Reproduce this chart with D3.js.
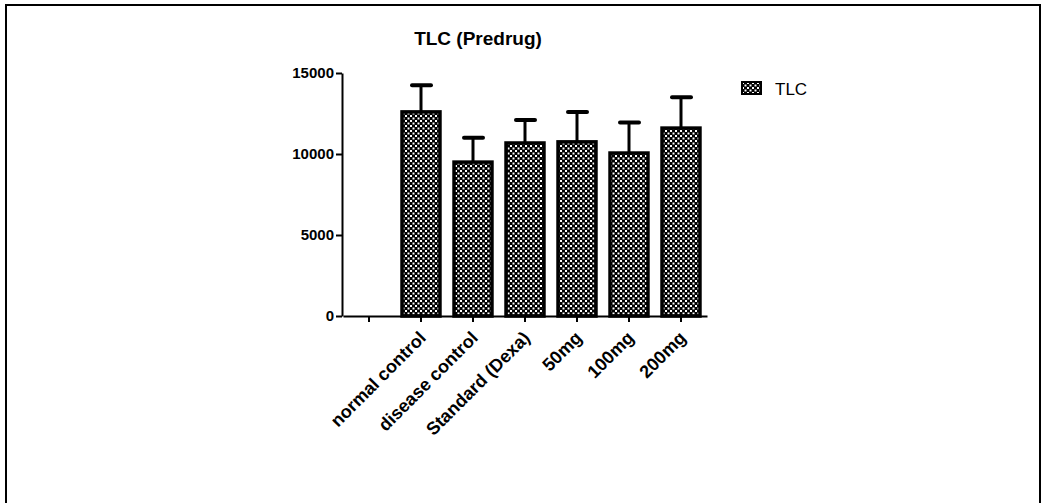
<!DOCTYPE html>
<html>
<head>
<meta charset="utf-8">
<script src="https://cdn.jsdelivr.net/npm/d3@7"></script>
<style>
  body { margin: 0; background: #fff; }
  svg { display: block; font-family: "Liberation Sans", Arial, sans-serif; }
</style>
</head>
<body>
<div id="chart"></div>
<script>
// data
const categories = ["", "normal control", "disease control", "Standard (Dexa)", "50mg", "100mg", "200mg"];
const groups = ["normal control", "disease control", "Standard (Dexa)", "50mg", "100mg", "200mg"];
const means = [12600, 9500, 10680, 10750, 10060, 11600];
const errors = [1650, 1500, 1420, 1850, 1890, 1900];
const yTicks = [0, 5000, 10000, 15000];
const seriesName = "TLC";

const W = 1047, H = 503;
const svg = d3.select('#chart').append('svg')
  .attr('width', W).attr('height', H);

// checker pattern for the bars
const defs = svg.append('defs');
const pat = defs.append('pattern')
  .attr('id', 'checker')
  .attr('patternUnits', 'userSpaceOnUse')
  .attr('width', 5).attr('height', 5);
pat.append('rect').attr('width', 5).attr('height', 5).attr('fill', '#000');
pat.append('rect').attr('x', 0).attr('y', 0).attr('width', 2).attr('height', 2).attr('fill', '#fff');
pat.append('rect').attr('x', 2.5).attr('y', 2.5).attr('width', 2).attr('height', 2).attr('fill', '#fff');

// outer frame
svg.append('rect')
  .attr('x', 6).attr('y', 5)
  .attr('width', 1034).attr('height', 520)
  .attr('fill', 'none').attr('stroke', '#000').attr('stroke-width', 2);

const x = d3.scaleBand()
  .domain(categories)
  .range([343, 707])
  .paddingInner(0.27)
  .paddingOuter(0.135);

const y = d3.scaleLinear().domain([0, 15000]).range([316, 73]);

// title
svg.append('text')
  .attr('x', 478).attr('y', 45)
  .attr('text-anchor', 'middle')
  .attr('font-size', 19).attr('font-weight', 'bold')
  .text('TLC (Predrug)');

// bars
const data = groups.map((g, i) => ({ g, m: means[i], e: errors[i] }));

svg.selectAll('.bar')
  .data(data)
  .enter().append('rect')
  .attr('class', 'bar')
  .attr('x', d => x(d.g))
  .attr('y', d => y(d.m))
  .attr('width', x.bandwidth())
  .attr('height', d => y(0) - y(d.m))
  .attr('fill', 'url(#checker)')
  .attr('stroke', '#000')
  .attr('stroke-width', 3.5);

// error bars (upper only)
const cx = d => x(d.g) + x.bandwidth() / 2;
svg.selectAll('.err')
  .data(data)
  .enter().append('line')
  .attr('x1', cx).attr('x2', cx)
  .attr('y1', d => y(d.m))
  .attr('y2', d => y(d.m + d.e))
  .attr('stroke', '#000').attr('stroke-width', 3);

svg.selectAll('.cap')
  .data(data)
  .enter().append('line')
  .attr('x1', d => cx(d) - 9).attr('x2', d => cx(d) + 10)
  .attr('y1', d => y(d.m + d.e))
  .attr('y2', d => y(d.m + d.e))
  .attr('stroke', '#000').attr('stroke-width', 4)
  .attr('stroke-linecap', 'round');

// y axis
const yAxis = svg.append('g')
  .attr('transform', 'translate(342,0)')
  .call(d3.axisLeft(y).tickValues(yTicks).tickSize(6).tickSizeOuter(0).tickFormat(d3.format('d')));
yAxis.select('.domain').attr('stroke-width', 2);
yAxis.selectAll('.tick line').attr('stroke-width', 2);
yAxis.selectAll('.tick text')
  .attr('x', -8)
  .attr('font-size', 15).attr('font-weight', 'bold')
  .attr('font-family', '"Liberation Sans", Arial, sans-serif')
  .attr('fill', '#000');

// x axis
const xAxis = svg.append('g')
  .attr('transform', 'translate(0,316)')
  .call(d3.axisBottom(x).tickSize(6).tickSizeOuter(0));
xAxis.select('.domain').attr('stroke-width', 2);
xAxis.selectAll('.tick line').attr('stroke-width', 2);
xAxis.selectAll('.tick text')
  .attr('font-size', 18).attr('font-weight', 'bold')
  .attr('font-family', '"Liberation Sans", Arial, sans-serif')
  .attr('fill', '#000')
  .attr('text-anchor', 'end')
  .attr('dy', 0)
  .attr('y', 0)
  .attr('transform', 'translate(6,23) rotate(-45)');

// legend
const lg = svg.append('g').attr('transform', 'translate(742,82)');
lg.append('rect')
  .attr('width', 19).attr('height', 12)
  .attr('fill', 'url(#checker)')
  .attr('stroke', '#000').attr('stroke-width', 2);
lg.append('text')
  .attr('x', 33).attr('y', 13)
  .attr('font-size', 17)
  .text(seriesName);
</script>
</body>
</html>
